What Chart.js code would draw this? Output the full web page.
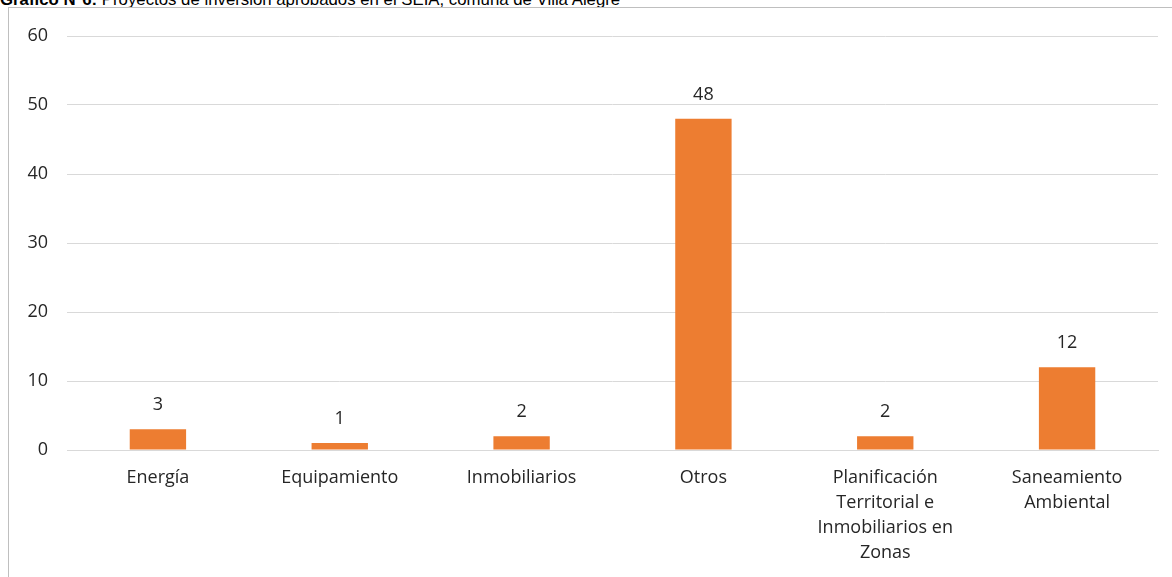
<!DOCTYPE html>
<html>
<head>
<meta charset="utf-8">
<script src="https://cdn.jsdelivr.net/npm/chart.js@4.4.0/dist/chart.umd.min.js"></script>
<style>
  html, body { margin: 0; padding: 0; background: #fff; overflow: hidden; }
  #titulo {
    position: absolute; left: 0; top: -10px; white-space: nowrap;
    font: 16.8px/19px "Liberation Sans", Arial, sans-serif; color: #000;
  }
  #marco {
    position: absolute; left: 8px; top: 7px; width: 1200px; height: 600px;
    border: 1px solid #bfbfbf; box-sizing: border-box; background: #fff;
  }
  #wrap { position: absolute; left: 0; top: 0; width: 1172px; height: 577px; }
</style>
</head>
<body>
<div id="titulo"><b>Gráfico N°6:</b> Proyectos de inversión aprobados en el SEIA, comuna de Villa Alegre</div>
<div id="marco"></div>
<div id="wrap"><canvas id="grafico"></canvas></div>
<script>
'use strict';

// Datos del gráfico
const categorias = [
    'Energía',
    'Equipamiento',
    'Inmobiliarios',
    'Otros',
    ['Planificación', 'Territorial e', 'Inmobiliarios en', 'Zonas'],
    ['Saneamiento', 'Ambiental'],
];
const proyectos = [3, 1, 2, 48, 2, 12];
const ticksY = [0, 10, 20, 30, 40, 50, 60];

const fuente = '"Open Sans", Lato, sans-serif';
const colorTexto = '#262626';

// Etiquetas de valor encima de cada barra
const etiquetasValor = {
    id: 'etiquetasValor',
    afterDatasetsDraw(chart) {
        const ctx = chart.ctx;
        const meta = chart.getDatasetMeta(0);
        ctx.save();
        ctx.font = '18px ' + fuente;
        ctx.fillStyle = colorTexto;
        ctx.textAlign = 'center';
        ctx.textBaseline = 'middle';
        meta.data.forEach(function (barra, i) {
            ctx.fillText(String(proyectos[i]), barra.x, barra.y - 24);
        });
        ctx.restore();
    },
};

const ctx = document.getElementById('grafico').getContext('2d');
new Chart(ctx, {
    type: 'bar',
    data: {
        labels: categorias,
        datasets: [
            {
                label: 'Proyectos',
                data: proyectos,
                backgroundColor: '#ED7D31',
                barPercentage: 0.62,
                categoryPercentage: 0.5,
            },
        ],
    },
    options: {
        responsive: true,
        maintainAspectRatio: false,
        animation: false,
        layout: {
            padding: { left: 0, right: 14, top: 36, bottom: 0 },
        },
        plugins: {
            legend: { display: false },
            tooltip: { enabled: false },
        },
        scales: {
            y: {
                min: 0,
                max: 60,
                afterBuildTicks(scale) {
                    scale.ticks = ticksY.map((v) => ({ value: v }));
                },
                afterFit(scale) {
                    scale.width = 67;
                },
                border: { display: false },
                grid: { color: '#d9d9d9', lineWidth: 1, drawTicks: false },
                ticks: {
                    padding: 19,
                    color: colorTexto,
                    font: { family: fuente, size: 18 },
                },
            },
            x: {
                afterFit(scale) {
                    scale.height = 127;
                },
                border: { display: true, color: '#d9d9d9' },
                grid: { display: false, drawTicks: false },
                ticks: {
                    padding: 15,
                    maxRotation: 0,
                    autoSkip: false,
                    color: colorTexto,
                    font: { family: fuente, size: 18, lineHeight: 1.39 },
                },
            },
        },
    },
    plugins: [etiquetasValor],
});
</script>
</body>
</html>
